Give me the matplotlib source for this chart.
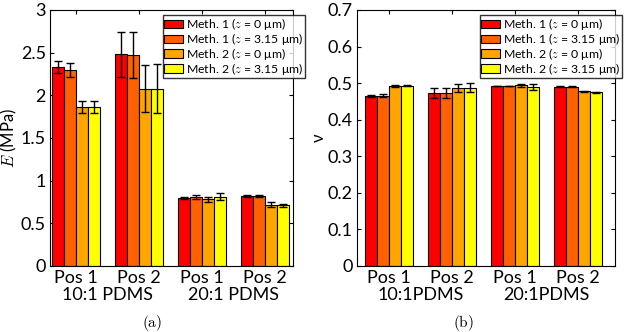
import numpy as np
import matplotlib
matplotlib.use("Agg")
import matplotlib.pyplot as plt
import matplotlib.transforms as mtransforms
from matplotlib.ticker import FormatStrFormatter

plt.rcParams['font.family'] = ['Lato', 'DejaVu Sans']
plt.rcParams['mathtext.fontset'] = 'cm'

# data
positions = ["Pos 1", "Pos 2", "Pos 1", "Pos 2"]
materials_a = ["10:1 PDMS", "20:1 PDMS"]
materials_b = ["10:1PDMS", "20:1PDMS"]
series = [r"Meth. 1 ($z$ = 0 μm)", r"Meth. 1 ($z$ = 3.15 μm)",
          r"Meth. 2 ($z$ = 0 μm)", r"Meth. 2 ($z$ = 3.15 μm)"]
colors = ["#ff0000", "#ff6000", "#ffa500", "#ffff00"]

E_m1_z0 = [2.33, 2.48, 0.80, 0.82]
E_m1_z3 = [2.30, 2.47, 0.81, 0.82]
E_m2_z0 = [1.86, 2.08, 0.78, 0.72]
E_m2_z3 = [1.86, 2.08, 0.81, 0.71]
E_err_m1_z0 = [0.07, 0.26, 0.01, 0.01]
E_err_m1_z3 = [0.08, 0.27, 0.02, 0.01]
E_err_m2_z0 = [0.07, 0.27, 0.03, 0.03]
E_err_m2_z3 = [0.07, 0.29, 0.04, 0.02]

nu_m1_z0 = [0.465, 0.473, 0.492, 0.490]
nu_m1_z3 = [0.465, 0.473, 0.492, 0.490]
nu_m2_z0 = [0.492, 0.487, 0.494, 0.478]
nu_m2_z3 = [0.493, 0.488, 0.490, 0.475]
nu_err_m1_z0 = [0.003, 0.013, 0.001, 0.001]
nu_err_m1_z3 = [0.004, 0.014, 0.001, 0.001]
nu_err_m2_z0 = [0.002, 0.012, 0.004, 0.001]
nu_err_m2_z3 = [0.002, 0.013, 0.009, 0.001]

E_vals = [E_m1_z0, E_m1_z3, E_m2_z0, E_m2_z3]
E_errs = [E_err_m1_z0, E_err_m1_z3, E_err_m2_z0, E_err_m2_z3]
nu_vals = [nu_m1_z0, nu_m1_z3, nu_m2_z0, nu_m2_z3]
nu_errs = [nu_err_m1_z0, nu_err_m1_z3, nu_err_m2_z0, nu_err_m2_z3]

fig = plt.figure(figsize=(6.26, 3.32), dpi=100)
ax1 = fig.add_axes([50 / 626, 66 / 332, 243 / 626, 256 / 332])
ax2 = fig.add_axes([357 / 626, 66 / 332, 258 / 626, 256 / 332])

x = np.arange(1, 5)
w = 0.19


def draw(ax, vals, errs, ylim, step, ylabel, mats, xlim, legend_anchor):
    for i in range(4):
        ax.bar(x + (i - 1.5) * w, vals[i], w, color=colors[i], edgecolor='black',
               linewidth=0.8, label=series[i], zorder=2)
        ax.errorbar(x + (i - 1.5) * w, vals[i], yerr=errs[i], fmt='none',
                    ecolor='black', elinewidth=1, capsize=3, capthick=1, zorder=3)
    ax.set_xlim(*xlim)
    ax.set_ylim(*ylim)
    ax.set_yticks(np.arange(ylim[0], ylim[1] + step / 2, step))
    ax.yaxis.set_major_formatter(FormatStrFormatter('%g'))
    ax.set_xticks(x)
    ax.set_xticklabels(positions)
    ax.tick_params(direction='in', top=True, right=True, length=3, labelsize=13,
                   pad=3)
    ax.tick_params(axis='x', pad=3)
    trans = mtransforms.blended_transform_factory(ax.transData, ax.transAxes)
    ax.text(1.5, -0.115, mats[0], transform=trans, ha='center', va='center',
            fontsize=13)
    ax.text(3.5, -0.115, mats[1], transform=trans, ha='center', va='center',
            fontsize=13)
    ax.set_ylabel(ylabel, fontsize=12, labelpad=1)
    leg = ax.legend(loc='upper right', bbox_to_anchor=legend_anchor, fontsize=8.8,
                    frameon=True, fancybox=False, borderpad=0.12, labelspacing=-0.1,
                    handlelength=1.5, handleheight=0.7, handletextpad=0.3,
                    borderaxespad=0)
    leg.get_frame().set_edgecolor('black')
    leg.get_frame().set_linewidth(1)
    leg.set_zorder(5)


draw(ax1, E_vals, E_errs, (0, 3), 0.5, r"$E$ (MPa)", materials_a,
     (0.59, 4.44), ((305 - 50) / 243, 1 - 5 / 256))
draw(ax2, nu_vals, nu_errs, (0, 0.7), 0.1, "ν", materials_b,
     (0.49, 4.59), ((622 - 357) / 258, 1 - 5 / 256))

fig.text(152 / 626, 1 - 323 / 332, r"$\mathrm{(a)}$", ha='center', va='center',
         fontsize=11)
fig.text(463 / 626, 1 - 323 / 332, r"$\mathrm{(b)}$", ha='center', va='center',
         fontsize=11)

fig.savefig("out.png", dpi=100)
